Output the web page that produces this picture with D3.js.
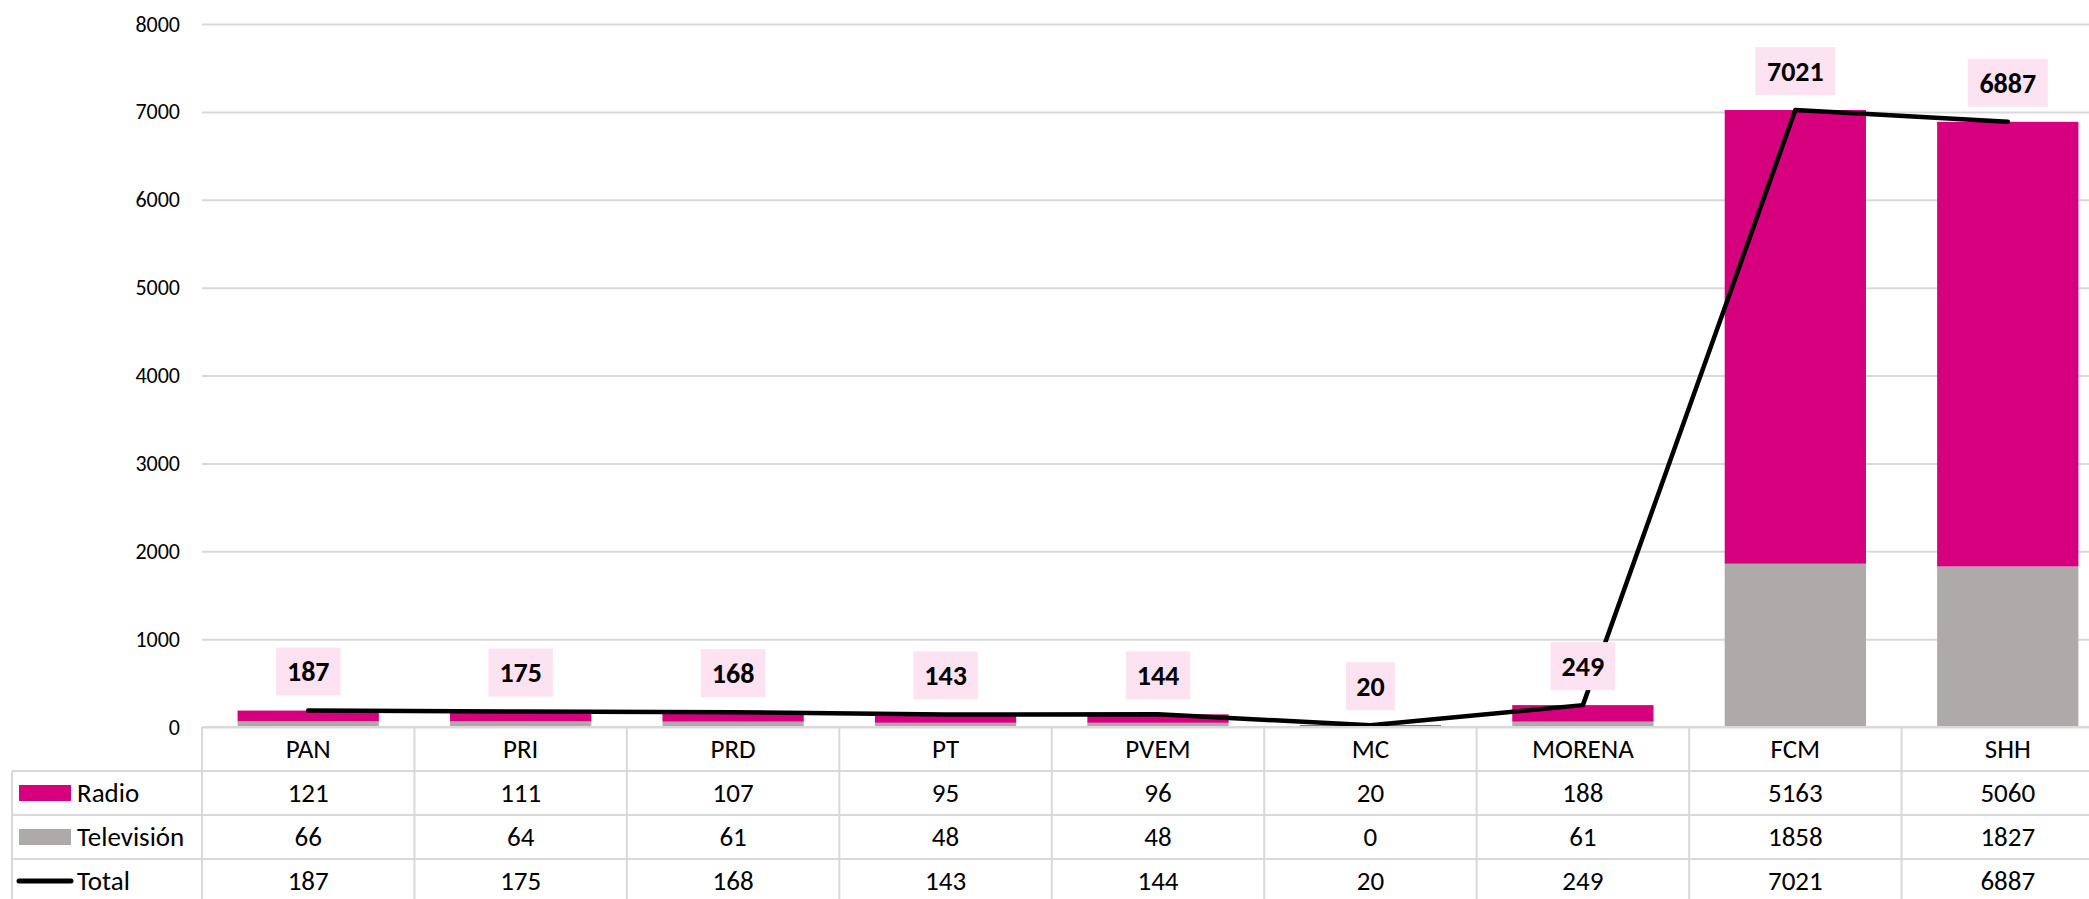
<!DOCTYPE html>
<html>
<head>
<meta charset="utf-8">
<script src="https://cdn.jsdelivr.net/npm/d3@7"></script>
<style>
body{margin:0;background:#fff;}
#canvas{width:2089px;height:899px;overflow:hidden;}
text{font-family:Carlito,Calibri,Lato,sans-serif;fill:#000;}
</style>
</head>
<body>
<div id="canvas"></div>
<script>
// data
var partidos = ['PAN','PRI','PRD','PT','PVEM','MC','MORENA','FCM','SHH'];
var radio = [121,111,107,95,96,20,188,5163,5060];
var television = [66,64,61,48,48,0,61,1858,1827];
var total = [187,175,168,143,144,20,249,7021,6887];
var yTicks = [0,1000,2000,3000,4000,5000,6000,7000,8000];

var colRadio = '#d6007f',
    colTv = '#aeaaaa',
    colGrid = '#d9d9d9',
    colLabel = '#fde3f1';

var W = 2089, H = 899;
var plotLeft = 202, plotRight = 2114, plotTop = 24, plotBottom = 727;
var rowH = 44;

var svg = d3.select('#canvas')
    .append('svg')
    .attr('width',W)
    .attr('height',H);

var x = d3.scaleBand()
    .domain(partidos)
    .range([plotLeft,plotRight])
    .paddingInner(0.335)
    .paddingOuter(0.1675);

var y = d3.scaleLinear()
    .domain([0,8000])
    .range([plotBottom,plotTop]);

// gridlines + y labels
var yAxis = svg.append('g')
    .attr('transform','translate('+plotLeft+',0)')
    .call(d3.axisLeft(y).tickValues(yTicks).tickFormat(d3.format('d'))
        .tickSize(-(plotRight-plotLeft)).tickPadding(22));
yAxis.select('.domain').remove();
yAxis.selectAll('.tick line').style('stroke',colGrid).style('stroke-width','2px');
yAxis.selectAll('.tick text')
    .style('font-size','22px')
    .style('font-family','Carlito,Calibri,Lato,sans-serif')
    .attr('fill','#000');

// stacked bars
var stack = partidos.map(function(p,i){ return {p:p, tv:television[i], radio:radio[i]}; });

svg.append('g').selectAll('rect.tv')
    .data(stack)
    .enter().append('rect')
    .attr('x',function(d){ return x(d.p); })
    .attr('width',x.bandwidth())
    .attr('y',function(d){ return y(d.tv); })
    .attr('height',function(d){ return y(0)-y(d.tv); })
    .style('fill',colTv);

svg.append('g').selectAll('rect.radio')
    .data(stack)
    .enter().append('rect')
    .attr('x',function(d){ return x(d.p); })
    .attr('width',x.bandwidth())
    .attr('y',function(d){ return y(d.tv+d.radio); })
    .attr('height',function(d){ return y(d.tv)-y(d.tv+d.radio); })
    .style('fill',colRadio);

// total line
var line = d3.line()
    .x(function(d,i){ return x(partidos[i])+x.bandwidth()/2; })
    .y(function(d){ return y(d); });

svg.append('path')
    .attr('d',line(total))
    .style('fill','none')
    .style('stroke','#000')
    .style('stroke-width','4.5px')
    .style('stroke-linejoin','round')
    .style('stroke-linecap','round');

// data labels
var lab = svg.append('g').selectAll('g')
    .data(total)
    .enter().append('g')
    .attr('transform',function(d,i){
        return 'translate('+(x(partidos[i])+x.bandwidth()/2)+','+(y(d)-39)+')';
    });
lab.append('rect')
    .attr('x',function(d){ return -(String(d).length*15.5+18)/2; })
    .attr('y',-24)
    .attr('width',function(d){ return String(d).length*15.5+18; })
    .attr('height',48)
    .style('fill',colLabel);
lab.append('text')
    .attr('text-anchor','middle')
    .attr('dy','0.35em')
    .style('font-size','28px')
    .style('font-weight','bold')
    .text(function(d){ return d; });

// data table
var tbl = svg.append('g');
var tBottom = plotBottom + rowH*4 + 10;

// horizontal lines
tbl.append('line')
    .attr('x1',plotLeft).attr('x2',plotRight)
    .attr('y1',plotBottom).attr('y2',plotBottom)
    .style('stroke',colGrid).style('stroke-width','2px');
for(var r = 1; r <= 3; r++){
    tbl.append('line')
        .attr('x1',12).attr('x2',plotRight)
        .attr('y1',plotBottom+r*rowH).attr('y2',plotBottom+r*rowH)
        .style('stroke',colGrid).style('stroke-width','2px');
}
// vertical lines
tbl.append('line')
    .attr('x1',12).attr('x2',12)
    .attr('y1',plotBottom+rowH).attr('y2',tBottom)
    .style('stroke',colGrid).style('stroke-width','2px');
var step = x.step();
for(var c = 0; c <= partidos.length; c++){
    var xx = plotLeft + c*step;
    tbl.append('line')
        .attr('x1',xx).attr('x2',xx)
        .attr('y1',plotBottom).attr('y2',tBottom)
        .style('stroke',colGrid).style('stroke-width','2px');
}

// cell text
var rows = [partidos, radio, television, total];
rows.forEach(function(vals,r){
    tbl.append('g').selectAll('text')
        .data(vals)
        .enter().append('text')
        .attr('x',function(d,i){ return x(partidos[i])+x.bandwidth()/2; })
        .attr('y',plotBottom+r*rowH+rowH/2)
        .attr('dy','0.35em')
        .attr('text-anchor','middle')
        .style('font-size','27px')
        .text(function(d){ return d; });
});

// legend column
var legNames = ['Radio','Televisión','Total'];
legNames.forEach(function(n,i){
    var cy = plotBottom+(i+1)*rowH+rowH/2;
    if(i < 2){
        tbl.append('rect')
            .attr('x',19).attr('y',cy-8)
            .attr('width',52).attr('height',16)
            .style('fill',i==0 ? colRadio : colTv);
    } else {
        tbl.append('line')
            .attr('x1',19).attr('x2',71)
            .attr('y1',cy).attr('y2',cy)
            .style('stroke','#000').style('stroke-width','5px')
            .style('stroke-linecap','round');
    }
    tbl.append('text')
        .attr('x',77)
        .attr('y',cy)
        .attr('dy','0.35em')
        .style('font-size','27px')
        .text(n);
});
</script>
</body>
</html>
